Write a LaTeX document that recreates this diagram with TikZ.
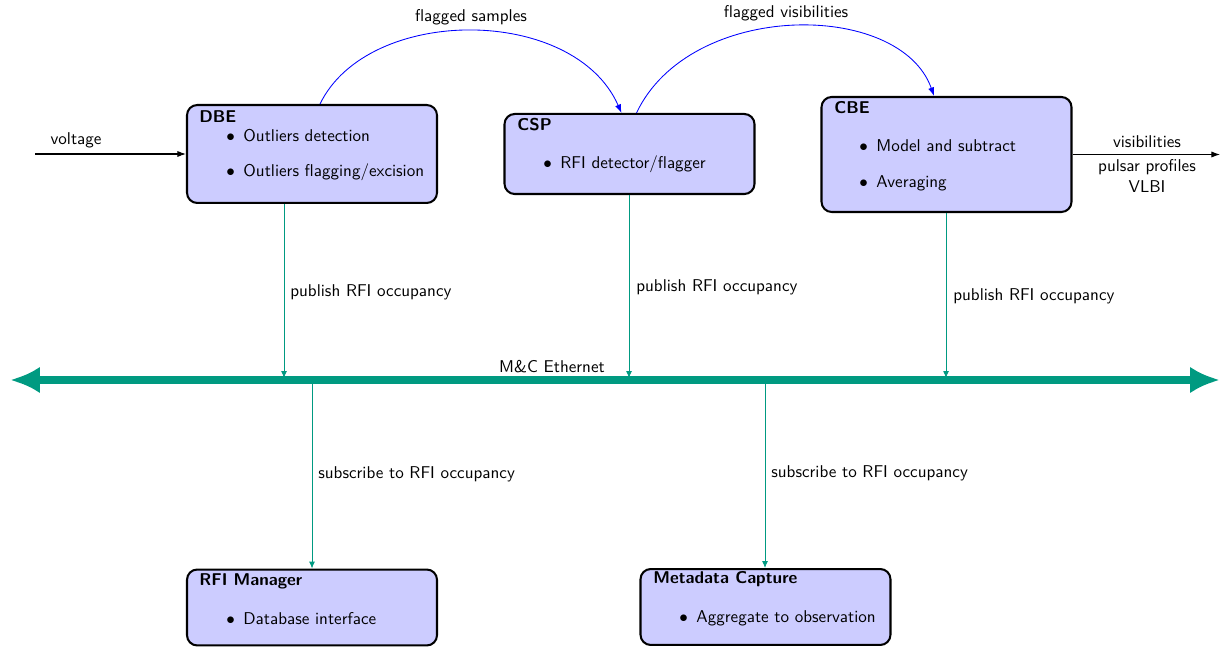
\documentclass[tikz,border=0pt]{standalone}
\usetikzlibrary{arrows.meta}
\renewcommand{\familydefault}{\sfdefault}
\definecolor{mcteal}{RGB}{0,154,129}
\tikzset{
  x=0.586pt, y=-0.586pt,
  box/.style={draw=black, line width=1.2pt, rounded corners=6pt, fill=blue!20, minimum width=146.5pt, inner sep=0pt},
  ttl/.style={anchor=west, inner sep=0pt, font=\bfseries},
  itm/.style={anchor=west, inner sep=0pt},
  lbl/.style={inner sep=0pt},
  flow/.style={blue, line width=0.5pt, -{Latex[length=5pt,width=3.6pt]}},
  pub/.style={mcteal, line width=0.5pt, -{Latex[length=4pt,width=3.4pt]}},
  io/.style={black, line width=0.6pt, -{Latex[length=5pt,width=3.6pt]}},
  bus/.style={mcteal, line width=4.2pt, {Latex[length=17.5pt,width=15.5pt]}-{Latex[length=17.5pt,width=15.5pt]}}
}
\newcommand{\bitem}[1]{$\bullet$\hspace{5pt}#1}
\begin{document}
\begin{tikzpicture}
\useasboundingbox (0,0) rectangle (1220,647);

% boxes
\node[box, minimum height=57.4pt] (dbe) at (312,154) {};
\node[box, minimum height=46.9pt] (csp) at (629.5,154) {};
\node[box, minimum height=67.4pt] (cbe) at (946.5,154.5) {};
\node[box, minimum height=44.5pt] (rfim) at (312,607.5) {};
\node[box, minimum height=44.5pt] (meta) at (765.5,607) {};

% titles
\node[ttl] (dbet) at (199,117) {DBE};
\node[ttl] (cspt) at (517,125) {CSP};
\node[ttl] (cbet) at (834,108) {CBE};
\node[ttl] (rfimt) at (199,581) {RFI Manager};
\node[ttl] (metat) at (653,579) {Metadata Capture};

% items
\node[itm] (dbe1) at (226,136) {\bitem{Outliers detection}};
\node[itm] (dbe2) at (226,172) {\bitem{Outliers flagging/excision}};
\node[itm] (csp1) at (543,164) {\bitem{RFI detector/flagger}};
\node[itm] (cbe1) at (859,146) {\bitem{Model and subtract}};
\node[itm] (cbe2) at (859,183) {\bitem{Averaging}};
\node[itm] (rfim1) at (226,619) {\bitem{Database interface}};
\node[itm] (meta1) at (679,618) {\bitem{Aggregate to observation}};

% input / output
\coordinate (vin) at (35,154);
\coordinate (vout) at (1220,154.5);
\draw[io] (vin) -- (dbe.west);
\draw[io] (cbe.east) -- (vout);
\node[lbl] (voltl) at (76,140) {voltage};
\node[lbl] (visl) at (1147,142) {visibilities};
\node[lbl] (pulsl) at (1147,167) {pulsar profiles};
\node[lbl] (vlbil) at (1147,187) {VLBI};

% flagged data arcs
\draw[flow] ([xshift=4.7pt]dbe.north) .. controls (368,5) and (574,5) .. ([xshift=-4.7pt]csp.north);
\draw[flow] ([xshift=4.1pt]csp.north) .. controls (690,0) and (900,0) .. ([xshift=-7.3pt]cbe.north);
\node[lbl] (fsl) at (471,17) {flagged samples};
\node[lbl] (fvl) at (786,13) {flagged visibilities};

% ethernet bus
\coordinate (busL) at (10,380);
\coordinate (busR) at (1220,380);
\draw[bus] (busL) -- (busR);
\node[lbl] (busl) at (552,367) {M\&C Ethernet};

\coordinate (e1) at (284,378);
\coordinate (e2) at (629,378);
\coordinate (e3) at (946,378);
\coordinate (s1) at (312,384);
\coordinate (s2) at (765,384);

\draw[pub] (dbe.south -| e1) -- (e1);
\draw[pub] (csp.south -| e2) -- (e2);
\draw[pub] (cbe.south -| e3) -- (e3);
\draw[pub] (s1) -- (rfim.north -| s1);
\draw[pub] (s2) -- (meta.north -| s2);

\node[lbl, anchor=west] (p1) at (290,292) {publish RFI occupancy};
\node[lbl, anchor=west] (p2) at (636,287) {publish RFI occupancy};
\node[lbl, anchor=west] (p3) at (953,296) {publish RFI occupancy};
\node[lbl, anchor=west] (sub1) at (318,474) {subscribe to RFI occupancy};
\node[lbl, anchor=west] (sub2) at (771,473) {subscribe to RFI occupancy};
\end{tikzpicture}
\end{document}
